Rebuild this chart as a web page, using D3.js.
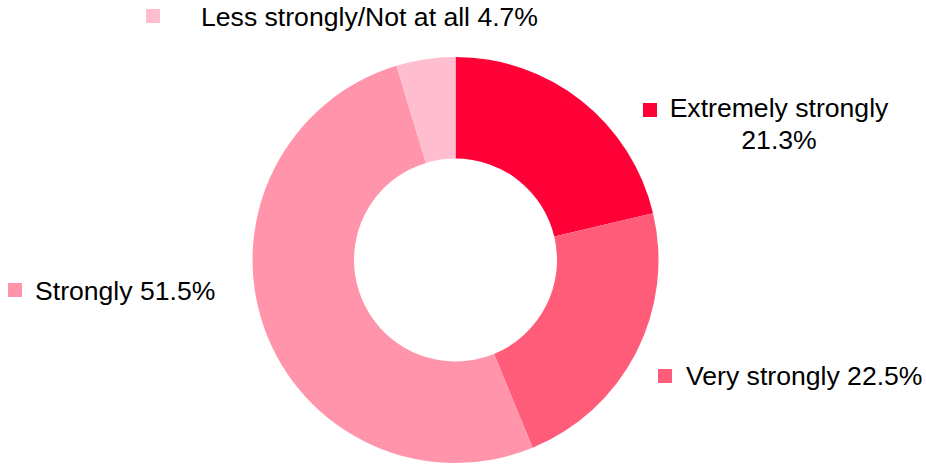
<!DOCTYPE html>
<html><head><meta charset="utf-8">
<script src="https://cdn.jsdelivr.net/npm/d3@7"></script>
<style>html,body{margin:0;padding:0;background:#fff}svg{display:block}text{font-family:"Liberation Sans",Arial,sans-serif;fill:#000}</style>
</head><body>
<svg id="chart" width="926" height="466"></svg>
<script>
const categories = ["Extremely strongly", "Very strongly", "Strongly", "Less strongly/Not at all"];
const values = [21.3, 22.5, 51.5, 4.7];
const colors = ["#FF0037", "#FF5C7A", "#FF94AA", "#FFBDD0"];
const labelLines = [["Extremely strongly", "21.3%"], ["Very strongly 22.5%"], ["Strongly 51.5%"], ["Less strongly/Not at all 4.7%"]];

const svg = d3.select("#chart");
const cx = 455.5, cy = 260, R = 203, r = 101.5;
const data = categories.map((c, i) => ({c, v: values[i], col: colors[i], lines: labelLines[i]}));
const pie = d3.pie().value(d => d.v).sort(null);
const arc = d3.arc().innerRadius(r).outerRadius(R);
const g = svg.append("g").attr("transform", `translate(${cx},${cy})`);
g.selectAll("path").data(pie(data)).join("path").attr("d", arc).attr("fill", d => d.data.col);

// label placement (square position, text start, baseline, centered)
const labelPos = [
  {sx: 643, sy: 103, tx: 779, ty: 117, anchor: "middle"},
  {sx: 658, sy: 369, tx: 686, ty: 385, anchor: "start"},
  {sx: 8, sy: 283, tx: 35, ty: 300, anchor: "start"},
  {sx: 146, sy: 9, tx: 201, ty: 26, anchor: "start"}
];
data.forEach((d, i) => {
  const p = labelPos[i];
  svg.append("rect").attr("x", p.sx).attr("y", p.sy).attr("width", 14).attr("height", 14).attr("fill", d.col);
  const t = svg.append("text").attr("x", p.tx).attr("y", p.ty).attr("text-anchor", p.anchor).style("font-size", "26.6px");
  d.lines.forEach((ln, j) => t.append("tspan").attr("x", p.tx).attr("dy", j === 0 ? 0 : 32).text(ln));
});
</script>
</body></html>
